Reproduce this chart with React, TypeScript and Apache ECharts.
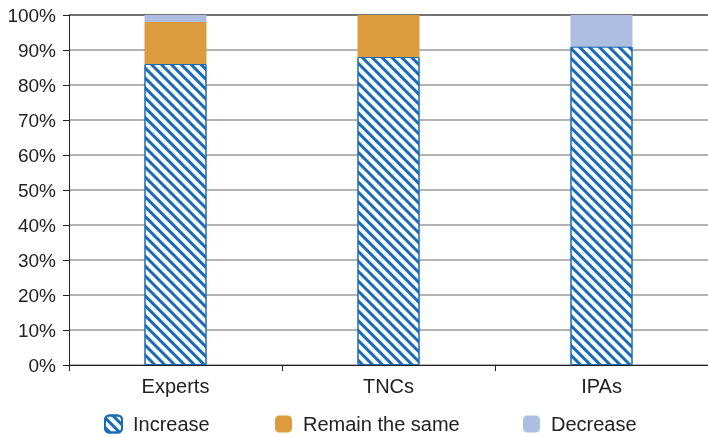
import React, { useEffect, useRef } from "react";
import * as echarts from "echarts";

const categories = ["Experts", "TNCs", "IPAs"];
const increase = [86, 88, 91];
const remainSame = [12, 12, 0];
const decrease = [2, 0, 9];
const yTicks = [0, 10, 20, 30, 40, 50, 60, 70, 80, 90, 100];

const FONT = "'Liberation Sans', Arial, sans-serif";

export default function App() {
  const ref = useRef<HTMLDivElement>(null);
  useEffect(() => {
    if (!ref.current) return;
    const chart = echarts.init(ref.current, null, { renderer: "svg" });
    const gridColors = yTicks.map((v) => (v === 100 ? "#444444" : "#9a9a9a"));
    chart.setOption({
      animation: false,
      textStyle: { fontFamily: FONT },
      grid: { left: 69, right: -6, top: 15, bottom: 72 },
      legend: [
        { data: ["Increase"], left: 104 },
        { data: ["Remain the same"], left: 275 },
        { data: ["Decrease"], left: 523 },
      ].map((l) => ({
        ...l,
        bottom: 3,
        padding: 0,
        itemWidth: 17,
        itemHeight: 17,
        itemGap: 6,
        textStyle: { fontSize: 20, color: "#222", fontFamily: FONT, padding: [0, 0, 0, 6] },
      })),
      xAxis: {
        type: "category",
        data: categories,
        axisLine: { lineStyle: { color: "#222", width: 1 } },
        axisTick: { show: true, length: 6, lineStyle: { color: "#222" } },
        axisLabel: { fontSize: 20, color: "#222", margin: 11, fontFamily: FONT },
      },
      yAxis: {
        type: "value",
        min: 0,
        max: 100,
        interval: 10,
        axisLine: { show: true, lineStyle: { color: "#222" } },
        axisTick: { show: true, length: 6, lineStyle: { color: "#222" } },
        axisLabel: { fontSize: 19, color: "#222", formatter: "{value}%", margin: 13, fontFamily: FONT },
        splitLine: { show: true, lineStyle: { color: gridColors, width: 1.5 } },
      },
      series: [
        {
          name: "Increase",
          type: "bar",
          stack: "s",
          barWidth: 62,
          data: increase,
          itemStyle: {
            color: "#ffffff",
            borderColor: "#1a6bb5",
            borderWidth: 1,
            decal: {
              symbol: "rect",
              color: "#1a6bb5",
              dashArrayX: [1, 0],
              dashArrayY: [3, 4],
              rotation: Math.PI / 4,
            },
          },
        },
        {
          name: "Remain the same",
          type: "bar",
          stack: "s",
          barWidth: 62,
          data: remainSame,
          itemStyle: { color: "#dc9b3d" },
        },
        {
          name: "Decrease",
          type: "bar",
          stack: "s",
          barWidth: 62,
          data: decrease,
          itemStyle: { color: "#adbee0" },
        },
      ],
    });
    return () => chart.dispose();
  }, []);
  return (
    <div
      ref={ref}
      style={{ position: "fixed", left: 0, top: 0, width: 708, height: 437 }}
    />
  );
}
